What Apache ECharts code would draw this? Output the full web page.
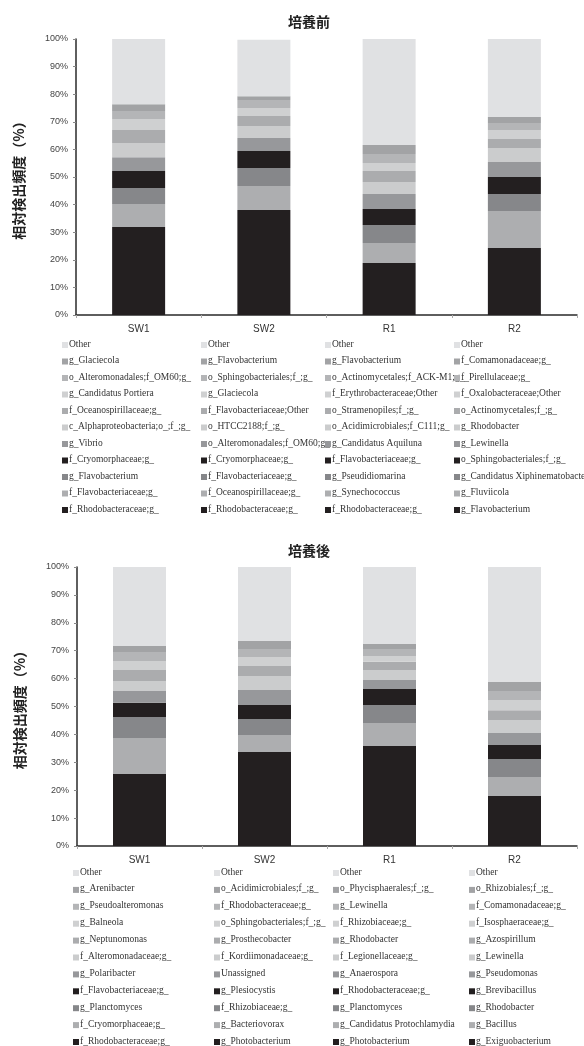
<!DOCTYPE html>
<html>
<head>
<meta charset="utf-8">
<script src="https://cdn.jsdelivr.net/npm/echarts@6/dist/echarts.min.js"></script>
<style>
  html, body { margin: 0; padding: 0; background: #fff; }
  #chart { width: 584px; height: 1046px; }
</style>
</head>
<body>
<div id="chart"></div>
<script>
// Samples shown on the x axis of both panels
const samples = ['SW1', 'SW2', 'R1', 'R2'];
const yTicks = [0, 10, 20, 30, 40, 50, 60, 70, 80, 90, 100];

// Taxa per sample, listed from the bottom of the stack upward (last = Other)
const taxaBefore = [
  ['f_Rhodobacteraceae;g_', 'f_Flavobacteriaceae;g_', 'g_Flavobacterium', 'f_Cryomorphaceae;g_', 'g_Vibrio',
   'c_Alphaproteobacteria;o_;f_;g_', 'f_Oceanospirillaceae;g_', 'g_Candidatus Portiera', 'o_Alteromonadales;f_OM60;g_', 'g_Glaciecola', 'Other'],
  ['f_Rhodobacteraceae;g_', 'f_Oceanospirillaceae;g_', 'f_Flavobacteriaceae;g_', 'f_Cryomorphaceae;g_', 'o_Alteromonadales;f_OM60;g_',
   'o_HTCC2188;f_;g_', 'f_Flavobacteriaceae;Other', 'g_Glaciecola', 'o_Sphingobacteriales;f_;g_', 'g_Flavobacterium', 'Other'],
  ['f_Rhodobacteraceae;g_', 'g_Synechococcus', 'g_Pseudidiomarina', 'f_Flavobacteriaceae;g_', 'g_Candidatus Aquiluna',
   'o_Acidimicrobiales;f_C111;g_', 'o_Stramenopiles;f_;g_', 'f_Erythrobacteraceae;Other', 'o_Actinomycetales;f_ACK-M1;g_', 'g_Flavobacterium', 'Other'],
  ['g_Flavobacterium', 'g_Fluviicola', 'g_Candidatus Xiphinematobacter', 'o_Sphingobacteriales;f_;g_', 'g_Lewinella',
   'g_Rhodobacter', 'o_Actinomycetales;f_;g_', 'f_Oxalobacteraceae;Other', 'f_Pirellulaceae;g_', 'f_Comamonadaceae;g_', 'Other']
];
const taxaAfter = [
  ['f_Rhodobacteraceae;g_', 'f_Cryomorphaceae;g_', 'g_Planctomyces', 'f_Flavobacteriaceae;g_', 'g_Polaribacter',
   'f_Alteromonadaceae;g_', 'g_Neptunomonas', 'g_Balneola', 'g_Pseudoalteromonas', 'g_Arenibacter', 'Other'],
  ['g_Photobacterium', 'g_Bacteriovorax', 'f_Rhizobiaceae;g_', 'g_Plesiocystis', 'Unassigned',
   'f_Kordiimonadaceae;g_', 'g_Prosthecobacter', 'o_Sphingobacteriales;f_;g_', 'f_Rhodobacteraceae;g_', 'o_Acidimicrobiales;f_;g_', 'Other'],
  ['g_Photobacterium', 'g_Candidatus Protochlamydia', 'g_Planctomyces', 'f_Rhodobacteraceae;g_', 'g_Anaerospora',
   'f_Legionellaceae;g_', 'g_Rhodobacter', 'f_Rhizobiaceae;g_', 'g_Lewinella', 'o_Phycisphaerales;f_;g_', 'Other'],
  ['g_Exiguobacterium', 'g_Bacillus', 'g_Rhodobacter', 'g_Brevibacillus', 'g_Pseudomonas',
   'g_Lewinella', 'g_Azospirillum', 'f_Isosphaeraceae;g_', 'f_Comamonadaceae;g_', 'o_Rhizobiales;f_;g_', 'Other']
];

// Relative abundance (%) per sample, same order as the taxa lists
const valuesBefore = [
  [31.9, 8.3, 5.8, 6.2, 5.0, 5.1, 4.7, 4.0, 2.9, 2.5, 23.6],
  [38.0, 8.7, 6.6, 6.1, 4.7, 4.4, 3.6, 2.9, 2.9, 1.4, 20.4],
  [18.8, 7.3, 6.5, 5.8, 5.4, 4.4, 4.0, 2.9, 3.2, 3.3, 38.4],
  [24.3, 13.4, 6.1, 6.2, 5.4, 5.1, 3.3, 3.2, 2.6, 2.1, 28.3]
];
const valuesAfter = [
  [25.8, 12.9, 7.5, 5.1, 4.3, 3.5, 4.0, 3.2, 3.2, 2.2, 28.3],
  [33.7, 6.1, 5.7, 5.0, 5.4, 5.0, 3.6, 3.2, 2.9, 2.9, 26.5],
  [35.8, 8.3, 6.4, 5.8, 3.2, 3.6, 2.9, 2.1, 2.5, 1.8, 27.6],
  [17.9, 6.8, 6.5, 5.0, 4.3, 4.7, 3.5, 3.6, 3.3, 3.2, 41.2]
];

// Grey shade for each stack position (bottom -> top, last = Other)
const shades = ['#231f20', '#adaeb0', '#86878a', '#231f20', '#97989b',
                '#cbcccd', '#abacae', '#cfd0d1', '#b4b5b7', '#a2a3a5', '#e0e1e3'];

const sansFont = '"Liberation Sans", "DejaVu Sans", sans-serif';
const serifFont = '"Liberation Serif", "DejaVu Serif", serif';
const cjkFont = '"Noto Sans CJK JP", sans-serif';

const panels = [
  { title: '培養前', taxa: taxaBefore, values: valuesBefore, top: 39, height: 276, left: 76, titleTop: 10,
    legendTop: 345, rowGap: 16.5, cols: [62, 201, 325, 454] },
  { title: '培養後', taxa: taxaAfter, values: valuesAfter, top: 567, height: 279, left: 77, titleTop: 539,
    legendTop: 873, rowGap: 16.9, cols: [73, 214, 333, 469] }
];

const grids = [], xAxes = [], yAxes = [], series = [], titles = [], graphics = [];

panels.forEach((p, gi) => {
  titles.push({
    text: p.title, left: 283, top: p.titleTop,
    textStyle: { fontFamily: cjkFont, fontSize: 14, fontWeight: 'bold', color: '#222' }
  });
  grids.push({ left: p.left, right: 7, top: p.top, height: p.height });
  xAxes.push({
    type: 'category', gridIndex: gi, data: samples,
    axisLine: { lineStyle: { color: '#2a2a2a', width: 1.5 } },
    axisTick: { show: true, length: 3, lineStyle: { color: '#aaa' } },
    axisLabel: { fontFamily: sansFont, fontSize: 10, color: '#333', margin: 9 }
  });
  yAxes.push({
    type: 'value', gridIndex: gi, min: yTicks[0], max: yTicks[yTicks.length - 1], interval: 10,
    name: '相対検出頻度（%）', nameLocation: 'middle', nameGap: 50,
    nameTextStyle: { fontFamily: cjkFont, fontSize: 14, fontWeight: 'bold', color: '#222' },
    axisLine: { show: true, lineStyle: { color: '#2a2a2a', width: 1.5 } },
    axisTick: { show: true, length: 3, lineStyle: { color: '#888' } },
    splitLine: { show: false },
    axisLabel: { fontFamily: sansFont, fontSize: 9, color: '#444', margin: 8, formatter: '{value}%' }
  });

  // One series per stack position; each bar has its own taxa at that position
  for (let k = 0; k < shades.length; k++) {
    series.push({
      type: 'bar', name: 'p' + gi + '_' + k, xAxisIndex: gi, yAxisIndex: gi,
      stack: 'panel' + gi, barWidth: 53,
      itemStyle: { color: shades[k] },
      emphasis: { disabled: true },
      data: p.values.map(v => v[k])
    });
  }

  // Per-sample legend: Other first, then the stack from top to bottom
  p.taxa.forEach((list, b) => {
    const n = list.length;
    for (let r = 0; r < n; r++) {
      const k = r === 0 ? n - 1 : n - 1 - r;
      const y = p.legendTop + r * p.rowGap;
      graphics.push({
        type: 'rect', left: p.cols[b], top: y - 3,
        shape: { width: 6, height: 6 }, style: { fill: shades[k] }, silent: true
      });
      graphics.push({
        type: 'text', left: p.cols[b] + 7, top: y - 6,
        style: { text: list[k], font: '9.5px ' + serifFont, fill: '#333' }, silent: true
      });
    }
  });
});

const chart = echarts.init(document.getElementById('chart'), null, { renderer: 'canvas' });
chart.setOption({
  animation: false,
  backgroundColor: '#fff',
  title: titles,
  grid: grids,
  xAxis: xAxes,
  yAxis: yAxes,
  series: series,
  graphic: graphics
});
</script>
</body>
</html>
